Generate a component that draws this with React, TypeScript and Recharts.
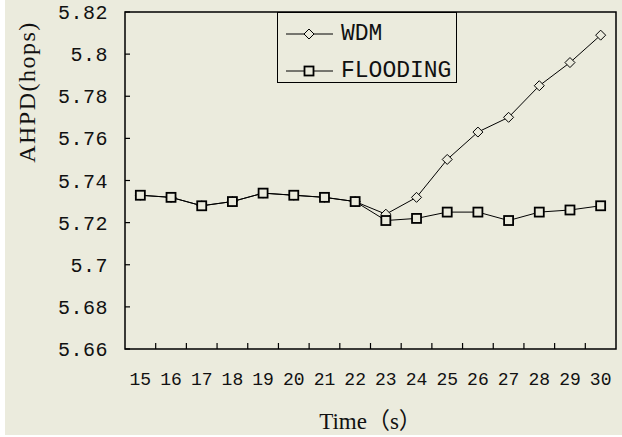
import { LineChart, Line, XAxis, YAxis, ReferenceArea, Legend } from "recharts";

const times = [15, 16, 17, 18, 19, 20, 21, 22, 23, 24, 25, 26, 27, 28, 29, 30];
const wdm = [5.733, 5.732, 5.728, 5.73, 5.734, 5.733, 5.732, 5.73, 5.724, 5.732, 5.75, 5.763, 5.77, 5.785, 5.796, 5.809];
const flooding = [5.733, 5.732, 5.728, 5.73, 5.734, 5.733, 5.732, 5.73, 5.721, 5.722, 5.725, 5.725, 5.721, 5.725, 5.726, 5.728];
const yTicks = [5.66, 5.68, 5.7, 5.72, 5.74, 5.76, 5.78, 5.8, 5.82];

const BG = "#EBEBDD";
const MONO = "'Liberation Mono', 'DejaVu Sans Mono', monospace";
const SERIF = "'Liberation Serif', 'Noto Sans CJK SC', serif";

const data = times.map((t, i) => ({ t, wdm: wdm[i], flooding: flooding[i] }));
// labels on the categories, little tick marks half way between them
const xTicks = times.flatMap((t, i) => (i < times.length - 1 ? [t, t + 0.5] : [t]));

const X_MARGIN = 30;
const Y_MARGIN = 17;

function XTick(props: any) {
  const { x, y, payload } = props;
  const v = payload.value;
  if (!Number.isInteger(v)) {
    const axisY = y - X_MARGIN;
    return <line x1={x} x2={x} y1={axisY} y2={axisY - 6} stroke="#000" strokeWidth={1.2} />;
  }
  return (
    <text x={x} y={y} dy="0.35em" textAnchor="middle" fontFamily={MONO} fontSize={18} fill="#111">
      {v}
    </text>
  );
}

function YTick(props: any) {
  const { x, y, payload } = props;
  const label = Number(Number(payload.value).toFixed(2)).toString();
  const axisX = x + Y_MARGIN;
  return (
    <g>
      <line x1={axisX} x2={axisX + 5} y1={y} y2={y} stroke="#000" strokeWidth={1.2} />
      <text x={x} y={y} dy="0.35em" textAnchor="end" fontFamily={MONO} fontSize={20} letterSpacing={0.5} fill="#111">
        {label}
      </text>
    </g>
  );
}

function Diamond(props: any) {
  const { cx, cy } = props;
  if (cx == null || cy == null) return <g key={props.key} />;
  const r = 5;
  return (
    <polygon
      key={props.key}
      points={`${cx},${cy - r} ${cx + r},${cy} ${cx},${cy + r} ${cx - r},${cy}`}
      fill={BG}
      stroke="#000"
      strokeWidth={1}
    />
  );
}

function Square(props: any) {
  const { cx, cy } = props;
  if (cx == null || cy == null) return <g key={props.key} />;
  const r = 4.5;
  return <rect key={props.key} x={cx - r} y={cy - r} width={r * 2} height={r * 2} fill={BG} stroke="#000" strokeWidth={1.8} />;
}

function LegendBox() {
  const rows = [
    { name: "WDM", marker: <polygon points="23,1 28,6 23,11 18,6" fill={BG} stroke="#000" strokeWidth={1} /> },
    { name: "FLOODING", marker: <rect x={18.5} y={1.5} width={9} height={9} fill={BG} stroke="#000" strokeWidth={1.8} /> },
  ];
  return (
    <div style={{ border: "1.5px solid #000", width: 178, height: 69, background: BG, boxSizing: "content-box" }}>
      {rows.map((r, i) => (
        <div key={r.name} style={{ display: "flex", alignItems: "center", height: 24, marginTop: i === 0 ? 9 : 13, marginLeft: 8 }}>
          <svg width={48} height={12} style={{ display: "block" }}>
            <line x1={0} x2={47} y1={6} y2={6} stroke="#000" strokeWidth={1} />
            {r.marker}
          </svg>
          <span style={{ fontFamily: MONO, fontSize: 23, color: "#111", marginLeft: 7, lineHeight: "24px" }}>{r.name}</span>
        </div>
      ))}
    </div>
  );
}

export default function App() {
  return (
    <div style={{ position: "absolute", left: 0, top: 0, width: 622, height: 437, background: "#fff" }}>
      <style>{`body{margin:0}`}</style>
      <div style={{ position: "absolute", left: 5, top: 0, width: 617, height: 435, background: BG }}>
        <LineChart width={617} height={435} data={data} margin={{ top: 12, right: 6, bottom: 0, left: 0 }}>
          <XAxis
            dataKey="t"
            type="number"
            domain={[14.5, 30.5]}
            ticks={xTicks}
            interval={0}
            tick={<XTick />}
            tickLine={false}
            tickSize={0}
            tickMargin={X_MARGIN}
            axisLine={false}
            height={86}
            label={{
              value: "Time（s）",
              position: "insideBottom",
              offset: 6,
              style: { fontFamily: SERIF, fontSize: 23, fill: "#111" },
            }}
          />
          <YAxis
            type="number"
            domain={[5.66, 5.82]}
            ticks={yTicks}
            interval={0}
            tick={<YTick />}
            tickLine={false}
            tickSize={0}
            tickMargin={Y_MARGIN}
            axisLine={false}
            width={120}
            label={{
              content: (p: any) => {
                const vb = p.viewBox || { x: 0, y: 12 };
                const x = vb.x + 22;
                const y = vb.y + 80;
                return (
                  <text
                    x={x}
                    y={y}
                    transform={`rotate(-90 ${x} ${y})`}
                    textAnchor="middle"
                    dy="0.35em"
                    fontFamily={SERIF}
                    fontSize={24}
                    letterSpacing={1.5}
                    fill="#111"
                  >
                    AHPD(hops)
                  </text>
                );
              },
            }}
          />
          <ReferenceArea x1={14.5} x2={30.5} y1={5.66} y2={5.82} fill="none" stroke="#000" strokeWidth={1.5} />
          <Line dataKey="wdm" name="WDM" stroke="#000" strokeWidth={1} dot={Diamond} isAnimationActive={false} />
          <Line dataKey="flooding" name="FLOODING" stroke="#000" strokeWidth={1} dot={Square} isAnimationActive={false} />
          <Legend
            layout="horizontal"
            verticalAlign="middle"
            align="center"
            content={() => <LegendBox />}
            wrapperStyle={{ left: 272, top: 12, width: 181 }}
          />
        </LineChart>
      </div>
    </div>
  );
}
